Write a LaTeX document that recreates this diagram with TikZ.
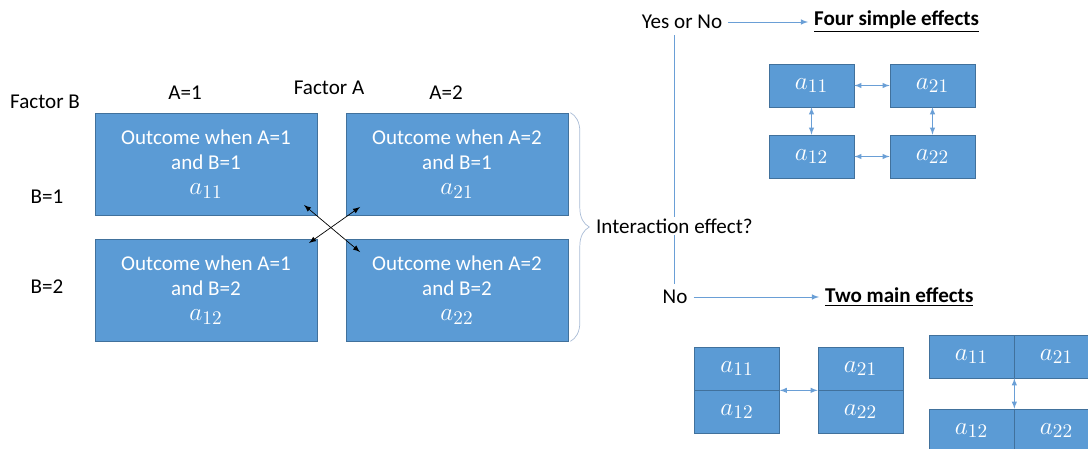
\documentclass[tikz,border=0pt]{standalone}
\usepackage{fontspec}
\setmainfont{Carlito}
\usetikzlibrary{positioning,decorations.pathreplacing}
\definecolor{cellblue}{HTML}{5B9BD5}
\definecolor{cellline}{HTML}{41719C}
\definecolor{linkblue}{HTML}{6A9FD6}
\definecolor{bracegray}{HTML}{A9BCD6}
\newcommand{\av}[1]{{\fontsize{15.5}{14.2}\selectfont$a_{#1}$}}

\begin{document}
\begin{tikzpicture}[x=0.02cm,y=-0.02cm,
    font=\fontsize{12}{14.2}\selectfont,
    cell/.style={draw=cellline,fill=cellblue,text=white,align=center,
      minimum width=4.44cm,minimum height=2.04cm,inner sep=0pt},
    small/.style={draw=cellline,fill=cellblue,text=white,
      minimum width=1.7cm,minimum height=0.86cm,inner sep=0pt},
    link/.style={<->,>=latex,linkblue,thin}]
  \useasboundingbox (0,0) rectangle (1088,449);
  \clip (0,0) rectangle (1088,449);

  % the 2x2 design
  \node[cell] (A11) at (206,164) {Outcome when A=1\\and B=1\\\av{11}};
  \node[cell] (A21) at (457,164) {Outcome when A=2\\and B=1\\\av{21}};
  \node[cell] (A12) at (206,290) {Outcome when A=1\\and B=2\\\av{12}};
  \node[cell] (A22) at (457,290) {Outcome when A=2\\and B=2\\\av{22}};
  \node (facB) at (45,102) {Factor B};
  \node (facA) at (329,88) {Factor A};
  \node (lA1) at (185,93) {A=1};
  \node (lA2) at (446,93) {A=2};
  \node (lB1) at (47,197) {B=1};
  \node (lB2) at (47,287) {B=2};

  \coordinate (c1) at (304,205);
  \coordinate (c2) at (360,252);
  \coordinate (c3) at (309,243);
  \coordinate (c4) at (360,207);
  \draw[<->,>=latex] (c1) -- (c2);
  \draw[<->,>=latex] (c3) -- (c4);

  \draw[bracegray,decorate,decoration={brace,amplitude=0.38cm}]
    ([xshift=0.04cm]A21.north east) -- ([xshift=0.04cm]A22.south east);
  \node[anchor=west,inner sep=1pt] (inter) at (594,226) {Interaction effect?};

  % yes or no
  \node (yesno) at (682,22) {Yes or No};
  \node[anchor=west] (four) at (808,22) {\underline{\textbf{Four simple effects}}};
  \draw[linkblue,->,>=latex] (yesno) -- (four);
  \node (no) at (675,297) {No};
  \node[anchor=west] (two) at (819,297) {\underline{\textbf{Two main effects}}};
  \draw[linkblue,->,>=latex] (no) -- (two);
  \draw[linkblue] (inter.north) -- (inter.north |- yesno.south);
  \draw[linkblue] (inter.south) -- (inter.south |- no.north);

  % simple effects
  \node[small] (s11) at (811.5,85.5) {\av{11}};
  \node[small] (s21) at (932.5,85.5) {\av{21}};
  \node[small] (s12) at (811.5,156.5) {\av{12}};
  \node[small] (s22) at (932.5,156.5) {\av{22}};
  \draw[link] (s11) -- (s21);
  \draw[link] (s12) -- (s22);
  \draw[link] (s11) -- (s12);
  \draw[link] (s21) -- (s22);

  % main effects
  \node[small] (m11) at (737,368.5) {\av{11}};
  \node[small] (m12) at (737,411.5) {\av{12}};
  \node[small] (m21) at (860.5,368.5) {\av{21}};
  \node[small] (m22) at (860.5,411.5) {\av{22}};
  \draw[link] (m11.south east) -- (m21.south west);

  \node[small] (r11) at (971.5,356.5) {\av{11}};
  \node[small] (r21) at (1056.5,356.5) {\av{21}};
  \node[small] (r12) at (971.5,430.5) {\av{12}};
  \node[small] (r22) at (1056.5,430.5) {\av{22}};
  \draw[link] (r11.south east) -- (r12.north east);
\end{tikzpicture}
\end{document}
